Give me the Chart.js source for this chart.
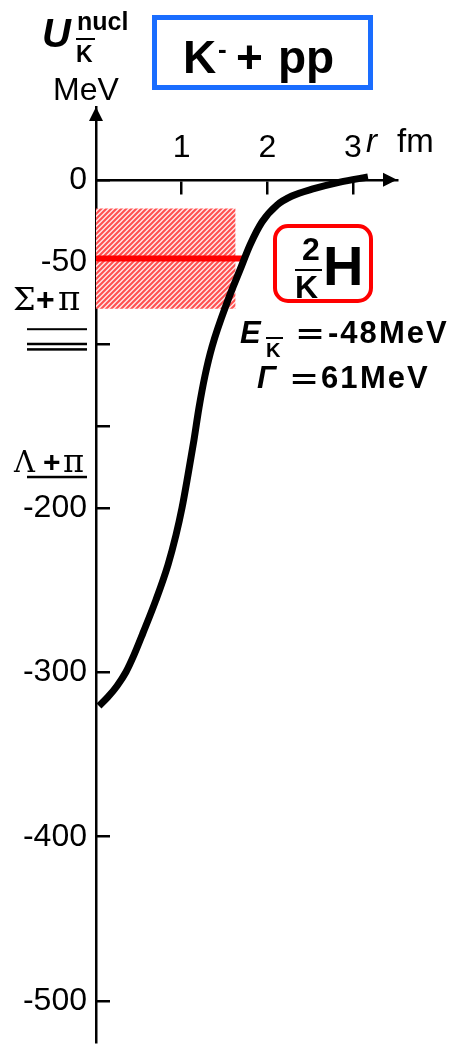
<!DOCTYPE html>
<html>
<head>
<meta charset="utf-8">
<script src="https://cdn.jsdelivr.net/npm/chart.js@4/dist/chart.umd.min.js"></script>
<style>
  html, body { margin: 0; padding: 0; background: #fff; }
  canvas { display: block; }
</style>
</head>
<body>
<canvas id="chart" width="461" height="1049"></canvas>
<script>
// K- + pp: antikaon potential U(r) versus distance r
const radius    = [0.035, 0.14, 0.245, 0.35, 0.444, 0.549, 0.70, 0.84, 0.934, 1.004, 1.074, 1.144, 1.202, 1.272, 1.354, 1.541, 1.681, 1.798, 1.938, 2.113, 2.288, 2.533, 2.848, 3.175];
const potential = [-320.4, -314.9, -308.2, -299.7, -289.3, -275.9, -255.8, -234.5, -216.3, -199.8, -179.7, -158.4, -138.9, -119.4, -101.8, -73.2, -54.9, -39.7, -25.7, -15.4, -9.9, -5.6, -1.4, 1.7];

// bound state: energy and width (MeV)
const bindingEnergy = -48;
const stateWidth = 61;
const levelEndR = 1.74;   // where the level meets the potential
const bandEndR = 1.63;    // extent of the width band

// decay thresholds (MeV)
const sigmaPiThresholds = [-91, -100, -103.3];
const lambdaPiThresholds = [-181];

// axis ticks
const xTicks = [1, 2, 3];
const yTicks = [0, -50, -100, -150, -200, -300, -400, -500];
const yTickLabels = ['0', '-50', '', '', '-200', '-300', '-400', '-500'];

const SANS = "'Liberation Sans', Arial, sans-serif";
const SERIF = "'DejaVu Serif', 'Liberation Serif', serif";

function hatchPattern() {
  const tile = document.createElement('canvas');
  tile.width = 5; tile.height = 5;
  const c = tile.getContext('2d');
  c.fillStyle = '#ffe8e8';
  c.fillRect(0, 0, 5, 5);
  c.strokeStyle = '#ff5050';
  c.lineWidth = 2.1;
  c.beginPath();
  c.moveTo(-1, 6); c.lineTo(6, -1);
  c.moveTo(-1, 1); c.lineTo(1, -1);
  c.moveTo(4, 6); c.lineTo(6, 4);
  c.stroke();
  return document.getElementById('chart').getContext('2d').createPattern(tile, 'repeat');
}

function roundRectPath(ctx, x, y, w, h, r) {
  ctx.beginPath();
  ctx.moveTo(x + r, y);
  ctx.arcTo(x + w, y, x + w, y + h, r);
  ctx.arcTo(x + w, y + h, x, y + h, r);
  ctx.arcTo(x, y + h, x, y, r);
  ctx.arcTo(x, y, x + w, y, r);
  ctx.closePath();
}

const annotations = {
  id: 'annotations',
  afterDraw(chart) {
    const { ctx, chartArea, scales: { x, y } } = chart;
    const x0 = x.getPixelForValue(0);
    const y0 = y.getPixelForValue(0);
    ctx.save();

    // arrowheads on both axes
    ctx.fillStyle = '#000';
    ctx.beginPath();
    ctx.moveTo(x0, chartArea.top);
    ctx.lineTo(x0 - 7, chartArea.top + 14);
    ctx.lineTo(x0 + 7, chartArea.top + 14);
    ctx.closePath(); ctx.fill();
    ctx.beginPath();
    ctx.moveTo(chartArea.right, y0);
    ctx.lineTo(chartArea.right - 14, y0 - 7);
    ctx.lineTo(chartArea.right - 14, y0 + 7);
    ctx.closePath(); ctx.fill();

    const text = (s, px, py, font, spacing) => {
      ctx.font = font;
      if ('letterSpacing' in ctx) ctx.letterSpacing = spacing || '0px';
      ctx.textAlign = 'left';
      ctx.textBaseline = 'alphabetic';
      ctx.fillText(s, px, py);
    };

    // axis titles
    text('U', 42, 47, `italic bold 40px ${SANS}`);
    text('nucl', 77, 30, `bold 25px ${SANS}`);
    text('K', 76, 62, `bold 23px ${SANS}`);
    ctx.fillRect(76, 38, 19, 2);
    text('MeV', 53, 100, `32px ${SANS}`);
    text('r', 366, 152, `italic 33px ${SANS}`);
    text('fm', 397, 152, `33px ${SANS}`);

    // threshold markers left of the axis
    ctx.fillStyle = '#000';
    sigmaPiThresholds.forEach((v, i) => {
      const py = y.getPixelForValue(v);
      const lw = i === 0 ? 2 : 2.5;
      ctx.fillRect(27, py - lw / 2, 60, lw);
    });
    lambdaPiThresholds.forEach(v => {
      const py = y.getPixelForValue(v);
      ctx.fillRect(27, py - 1.25, 60, 2.5);
    });
    const sy = y.getPixelForValue(sigmaPiThresholds[0]) - 19;
    text('\u03A3', 13, sy, `32px ${SERIF}`);
    text('+', 36, sy, `bold 32px ${SANS}`);
    text('\u03C0', 58, sy, `34px ${SERIF}`);
    const ly = y.getPixelForValue(lambdaPiThresholds[0]) - 5;
    text('\u039B', 14, ly, `29px ${SERIF}`);
    text('+', 43, ly, `bold 30px ${SANS}`);
    text('\u03C0', 63, ly, `32px ${SERIF}`);

    // title box
    ctx.strokeStyle = '#1a6dff';
    ctx.lineWidth = 5;
    ctx.strokeRect(154.5, 17.5, 216, 70);
    text('K', 183, 73, `bold 46px ${SANS}`);
    text('-', 218, 58, `bold 26px ${SANS}`);
    text('+', 236, 73, `bold 46px ${SANS}`);
    text('pp', 278, 73, `bold 46px ${SANS}`);

    // bound-state label box
    ctx.strokeStyle = '#ff0000';
    ctx.lineWidth = 4;
    roundRectPath(ctx, 275, 226, 96, 75, 13);
    ctx.stroke();
    text('2', 302, 260, `bold 32px ${SANS}`);
    ctx.fillRect(295, 269, 27, 2);
    text('K', 295, 298, `bold 32px ${SANS}`);
    text('H', 323, 285, `bold 56px ${SANS}`);

    // energy and width of the state
    text('E', 240, 343, `italic bold 31px ${SANS}`);
    text('K', 266, 357, `bold 20px ${SANS}`);
    ctx.fillRect(266, 337, 17, 2);
    text('=', 295, 345, `36px 'DejaVu Sans', sans-serif`);
    text(String(bindingEnergy), 328, 343, `bold 31px ${SANS}`, '2px');
    text('MeV', 379, 343, `bold 31px ${SANS}`, '2px');

    text('\u0393', 257, 388, `italic bold 31px ${SANS}`);
    text('=', 289, 390, `36px 'DejaVu Sans', sans-serif`);
    text(String(stateWidth), 321, 388, `bold 31px ${SANS}`, '2px');
    text('MeV', 360, 388, `bold 31px ${SANS}`, '2px');

    ctx.restore();
  }
};

const tickFont = { family: SANS, size: 32 };

new Chart(document.getElementById('chart'), {
  type: 'scatter',
  data: {
    datasets: [
      {
        // width band around the bound-state energy
        data: [
          { x: 0, y: bindingEnergy + stateWidth / 2 },
          { x: bandEndR, y: bindingEnergy + stateWidth / 2 }
        ],
        showLine: true,
        borderWidth: 0,
        pointRadius: 0,
        fill: { value: bindingEnergy - stateWidth / 2 },
        backgroundColor: hatchPattern(),
        order: 3
      },
      {
        // bound-state level
        data: [{ x: 0, y: bindingEnergy }, { x: levelEndR, y: bindingEnergy }],
        showLine: true,
        borderColor: '#ff0000',
        borderWidth: 6,
        borderCapStyle: 'butt',
        pointRadius: 0,
        fill: false,
        order: 2
      },
      {
        // potential curve
        data: radius.map((r, i) => ({ x: r, y: potential[i] })),
        showLine: true,
        borderColor: '#000',
        borderWidth: 7,
        borderCapStyle: 'butt',
        borderJoinStyle: 'round',
        cubicInterpolationMode: 'monotone',
        pointRadius: 0,
        fill: false,
        order: 1
      }
    ]
  },
  options: {
    responsive: false,
    animation: false,
    events: [],
    layout: { padding: { left: 0, top: 107, right: 64, bottom: 7 } },
    plugins: { legend: { display: false }, tooltip: { enabled: false } },
    scales: {
      x: {
        type: 'linear',
        min: 0,
        max: 3.514,
        position: { y: 0 },
        afterBuildTicks: s => { s.ticks = xTicks.map(v => ({ value: v })); },
        afterFit: s => { s.paddingLeft = 0; s.paddingRight = 0; },
        ticks: {
          autoSkip: false,
          maxRotation: 0,
          padding: -64,
          color: '#000',
          font: tickFont,
          callback: v => String(v)
        },
        grid: { display: true, drawOnChartArea: false, drawTicks: true, tickLength: 13, color: '#000', lineWidth: 2.5 },
        border: { display: true, color: '#000', width: 2.5 }
      },
      y: {
        type: 'linear',
        min: -525,
        max: 44.3,
        position: 'left',
        afterBuildTicks: s => { s.ticks = yTicks.map(v => ({ value: v })); },
        afterFit: s => { s.width = 96; s.paddingTop = 0; s.paddingBottom = 0; },
        ticks: {
          autoSkip: false,
          padding: 23,
          color: '#000',
          font: tickFont,
          callback: v => {
            const i = yTicks.indexOf(v);
            return i >= 0 ? yTickLabels[i] : '';
          }
        },
        grid: { display: true, drawOnChartArea: false, drawTicks: true, tickLength: -14, color: '#000', lineWidth: 2.5 },
        border: { display: true, color: '#000', width: 2.5 }
      }
    }
  },
  plugins: [annotations]
});
</script>
</body>
</html>
